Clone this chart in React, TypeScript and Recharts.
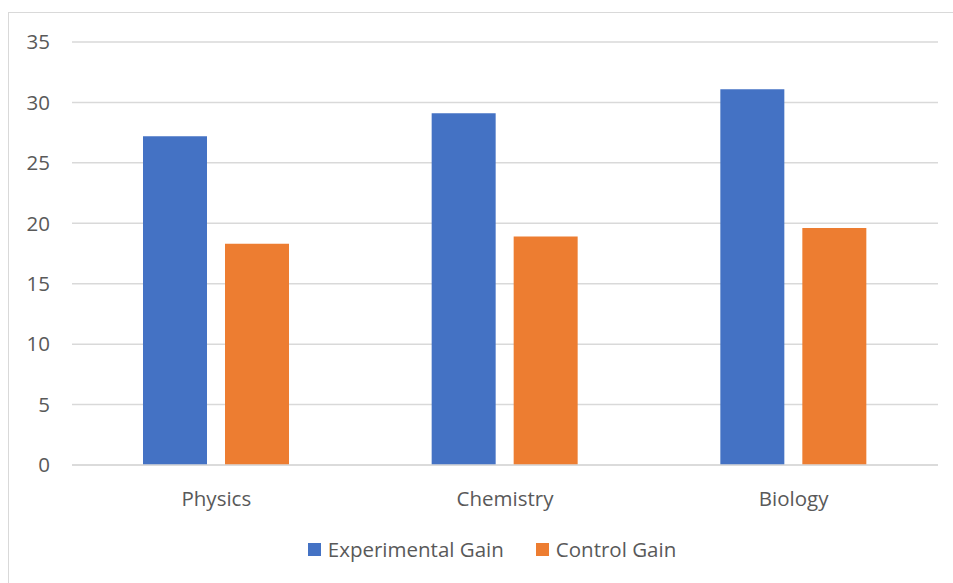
import { Bar, BarChart, CartesianGrid, XAxis, YAxis } from 'recharts';

const subjects = ['Physics', 'Chemistry', 'Biology'];
const experimentalGain = [27.2, 29.1, 31.1];
const controlGain = [18.3, 18.9, 19.6];
const yTicks = [0, 5, 10, 15, 20, 25, 30, 35];

const BLUE = '#4472C4';
const ORANGE = '#ED7D31';
const GRID = '#d9d9d9';
const TEXT = '#595959';
const FONT = '"Open Sans", "Noto Sans", sans-serif';
const FONT_SIZE = 20.5;

const data = subjects.map((s, i) => ({
  subject: s,
  experimental: experimentalGain[i],
  control: controlGain[i],
}));

const legendItems = [
  { label: 'Experimental Gain', color: BLUE },
  { label: 'Control Gain', color: ORANGE },
];

// legend sits below the plot, outside the svg, like the office-style chart
function LegendRow() {
  return (
    <div
      style={{
        position: 'absolute',
        left: 22,
        right: 0,
        top: 522,
        display: 'flex',
        justifyContent: 'center',
        gap: 32,
        fontFamily: FONT,
        fontSize: FONT_SIZE,
        color: TEXT,
      }}
    >
      {legendItems.map((it) => (
        <div key={it.label} style={{ display: 'flex', alignItems: 'center' }}>
          <span style={{ width: 13, height: 13, background: it.color, display: 'inline-block', marginRight: 7 }} />
          <span>{it.label}</span>
        </div>
      ))}
    </div>
  );
}

export default function App() {
  return (
    <div
      style={{
        position: 'absolute',
        left: 8,
        top: 12,
        width: 944,
        height: 600,
        borderLeft: `1px solid ${GRID}`,
        borderTop: `1px solid ${GRID}`,
        background: '#fff',
      }}
    >
      <BarChart
        width={944}
        height={512}
        data={data}
        margin={{ top: 29, right: 15, left: 0, bottom: 0 }}
        barGap={18}
        barCategoryGap={71}
        style={{ fontFamily: FONT }}
      >
        <CartesianGrid vertical={false} stroke={GRID} strokeWidth={1.5} />
        <XAxis
          dataKey="subject"
          axisLine={{ stroke: GRID, strokeWidth: 1.5 }}
          tickLine={false}
          tick={{ fill: TEXT, fontSize: FONT_SIZE, dy: 18 }}
          height={60}
        />
        <YAxis
          domain={[0, 35]}
          ticks={yTicks}
          axisLine={false}
          tickLine={false}
          width={63}
          tick={{ fill: TEXT, fontSize: FONT_SIZE, dx: -14 }}
        />
        <Bar dataKey="experimental" fill={BLUE} isAnimationActive={false} />
        <Bar dataKey="control" fill={ORANGE} isAnimationActive={false} />
      </BarChart>
      <LegendRow />
    </div>
  );
}
